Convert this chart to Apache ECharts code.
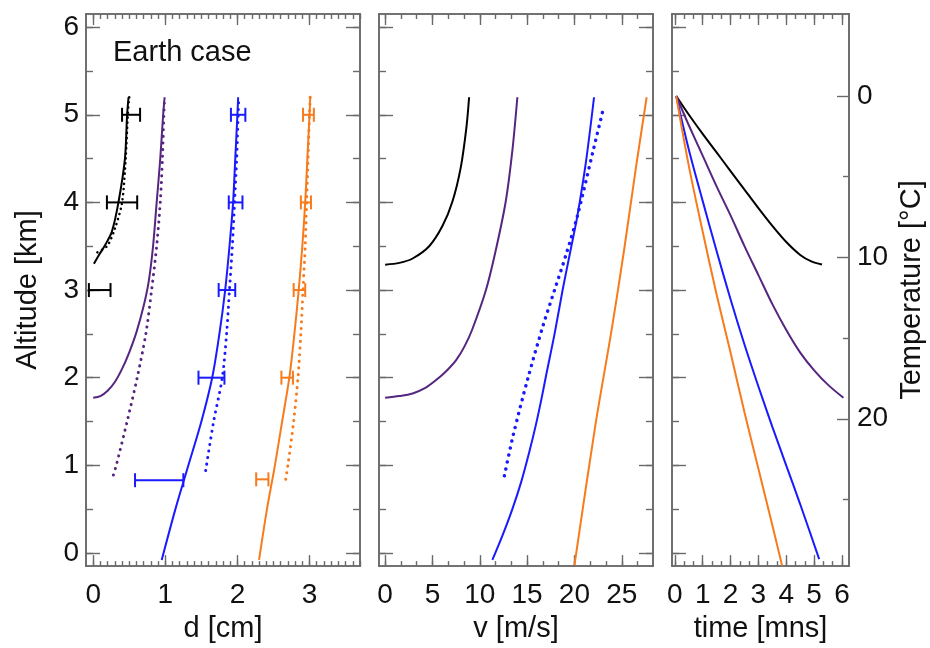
<!DOCTYPE html>
<html><head><meta charset="utf-8">
<script src="https://cdn.jsdelivr.net/npm/echarts@6/dist/echarts.min.js"></script>
<style>html,body{margin:0;padding:0;background:#fff}#c{width:930px;height:648px}</style>
</head><body><div id="c"></div>
<script>
// ---------------- tick labels ----------------
const dTickLabels = [0, 1, 2, 3];
const vTickLabels = [0, 5, 10, 15, 20, 25];
const timeTickLabels = [0, 1, 2, 3, 4, 5, 6];
const altTickLabels = [0, 1, 2, 3, 4, 5, 6];
const tempTickLabels = [0, 10, 20];

// ---------------- panel 1 : d [cm] vs altitude [km]   ([d, alt]) ----------------
const dBlack = [[0.49,5.2],[0.47,5.0],[0.44,4.5],[0.35,4.0],[0.26,3.67],[0.17,3.52],[0.08,3.40],[0.01,3.30]];
const dBlackDot = [[0.50,5.2],[0.48,5.0],[0.45,4.5],[0.40,4.0],[0.30,3.7],[0.19,3.5],[0.03,3.42]];
const dPurple = [[0.0,1.77],[0.1,1.79],[0.2,1.85],[0.3,1.95],[0.4,2.1],[0.5,2.29],[0.6,2.52],[0.7,2.82],[0.77,3.1],[0.83,3.5],[0.88,4.0],[0.93,4.5],[0.97,5.0],[0.99,5.2]];
const dPurpleDot = [[0.28,0.89],[0.32,1.0],[0.47,1.5],[0.61,2.0],[0.73,2.5],[0.81,3.0],[0.88,3.5],[0.93,4.0],[0.96,4.5],[0.98,5.0],[0.99,5.2]];
const dBlue = [[0.95,-0.08],[1.14,0.5],[1.32,1.0],[1.50,1.5],[1.65,2.0],[1.75,2.5],[1.83,3.0],[1.89,3.5],[1.94,4.0],[1.97,4.5],[2.0,5.0],[2.01,5.2]];
const dBlueDot = [[1.56,0.94],[1.67,1.5],[1.79,2.0],[1.85,2.5],[1.89,3.0],[1.93,3.5],[1.96,4.0],[1.99,4.5],[2.01,5.0],[2.02,5.2]];
const dOrange = [[2.30,-0.08],[2.41,0.5],[2.52,1.0],[2.62,1.5],[2.72,2.0],[2.79,2.5],[2.85,3.0],[2.90,3.5],[2.94,4.0],[2.97,4.5],[3.0,5.0],[3.01,5.2]];
const dOrangeDot = [[2.67,0.84],[2.70,1.0],[2.78,1.5],[2.84,2.0],[2.88,2.5],[2.91,3.0],[2.94,3.5],[2.96,4.0],[2.98,4.5],[3.0,5.0],[3.01,5.2]];
// measured sizes with horizontal error bars  ([alt, low, high])
const errBlack = [[5.0,0.40,0.65],[4.0,0.19,0.61],[3.0,-0.06,0.24]];
const errBlue = [[5.0,1.91,2.11],[4.0,1.88,2.07],[3.0,1.74,1.97],[2.0,1.46,1.82],[0.83,0.58,1.25]];
const errOrange = [[5.0,2.91,3.06],[4.0,2.88,3.02],[3.0,2.78,2.94],[2.0,2.61,2.77],[0.84,2.26,2.43]];

// ---------------- panel 2 : v [m/s] vs altitude [km]   ([v, alt]) ----------------
const vBlack = [[0,3.29],[1.5,3.31],[2.9,3.36],[4.65,3.50],[6.05,3.73],[7.11,4.01],[7.99,4.40],[8.59,4.86],[8.87,5.2]];
const vPurple = [[0,1.77],[1.5,1.79],[2.9,1.82],[4.2,1.88],[5.35,1.97],[6.5,2.08],[7.5,2.2],[8.4,2.36],[9.2,2.55],[10.65,3.0],[11.7,3.46],[12.74,4.01],[13.44,4.59],[13.97,5.2]];
const vBlue = [[11.33,-0.08],[12.4,0.2],[13.44,0.5],[14.4,0.82],[15.2,1.14],[15.9,1.45],[16.5,1.75],[17.05,2.05],[17.9,2.5],[18.75,3.0],[19.6,3.46],[20.3,3.84],[21.2,4.45],[22.07,5.2]];
const vBlueDot = [[12.6,0.88],[13.5,1.33],[15.1,2.0],[16.7,2.6],[17.9,3.0],[19.1,3.4],[20.3,3.84],[22.0,4.6],[23.1,5.09]];
const vOrange = [[20.0,-0.14],[22.2,1.45],[23.95,2.56],[25.25,3.46],[26.5,4.4],[27.63,5.2]];

// ---------------- panel 3 : time [mns] vs temperature [°C]   ([t, T]) ----------------
const tBlack = [[0.05,0],[0.5,1.15],[1.0,2.35],[1.5,3.5],[2.0,4.65],[2.5,5.8],[3.0,6.95],[3.5,8.05],[4.0,9.05],[4.5,9.85],[4.9,10.25],[5.28,10.44]];
const tPurple = [[0.05,0],[0.5,1.8],[1.0,3.7],[1.5,5.6],[2.0,7.4],[2.5,9.3],[3.0,11.1],[3.5,12.9],[4.0,14.5],[4.5,15.9],[5.0,17.0],[5.5,17.9],[6.05,18.7]];
const tBlue = [[0.05,0],[0.5,3.3],[1.0,6.5],[1.5,9.6],[2.0,12.6],[2.5,15.4],[3.0,18.0],[3.5,20.5],[4.0,22.9],[4.5,25.3],[5.18,28.7]];
const tOrange = [[0.05,0],[0.5,4.3],[1.0,8.4],[1.5,12.3],[2.0,15.9],[2.5,19.6],[3.0,23.1],[3.5,26.6],[3.85,29.1]];

// ---------------- styling ----------------
const FONT = '"Liberation Sans", Arial, Helvetica, sans-serif';
const AX = '#6a6a6a';
const TXT = '#111';
const C_BLACK = '#000000', C_PURPLE = '#55267f', C_BLUE = '#1a1aff', C_ORANGE = '#f77b1c';

function steps(a, b, s) { const out = []; for (let i = 0; a + i * s <= b + 1e-9; i++) out.push(Math.round((a + i * s) * 1e4) / 1e4); return out; }

const grids = [
  { left: 86, top: 14, width: 274, height: 557 },
  { left: 379, top: 14, width: 274, height: 557 },
  { left: 672, top: 14, width: 177, height: 557 }
];

function axis(o) {
  return {
    type: 'value', gridIndex: o.g, min: o.min, max: o.max, position: o.pos, inverse: !!o.inverse,
    splitLine: { show: false },
    axisLine: { show: true, onZero: false, lineStyle: { color: AX, width: 1.6 } },
    axisTick: { show: true, inside: true, length: o.len, customValues: o.ticks, lineStyle: { color: AX, width: 1.4 } },
    axisLabel: o.labels ? { show: true, customValues: o.labels, fontSize: 28, color: TXT, fontFamily: FONT, margin: o.margin } : { show: false },
    name: o.name || '', nameLocation: 'middle', nameGap: o.nameGap || 0, nameRotate: o.nameRotate,
    nameTextStyle: { fontSize: 29, color: TXT, fontFamily: FONT }
  };
}

const xDefs = [
  { min: -0.1, max: 3.7, majors: dTickLabels, minorStep: 0.1, name: 'd [cm]' },
  { min: -0.65, max: 28.3, majors: vTickLabels, minorStep: 5 / 3, name: 'v [m/s]' },
  { min: -0.1, max: 6.25, majors: timeTickLabels, minorStep: 1 / 3, name: 'time [mns]' }
];
const ALT_MIN = -0.15, ALT_MAX = 6.15;
const T_MIN = -5.08, T_MAX = 29.13;

const xAxes = [], yAxes = [];
xDefs.forEach((d, g) => {
  const minors = steps(d.majors[0], d.max, d.minorStep);
  xAxes.push(axis({ g, min: d.min, max: d.max, pos: 'bottom', len: 11, ticks: d.majors, labels: d.majors, margin: 15, name: d.name, nameGap: 46 }));
  xAxes.push(axis({ g, min: d.min, max: d.max, pos: 'bottom', len: 5, ticks: minors }));
  xAxes.push(axis({ g, min: d.min, max: d.max, pos: 'top', len: 11, ticks: d.majors }));
  xAxes.push(axis({ g, min: d.min, max: d.max, pos: 'top', len: 5, ticks: minors }));

  const altMinors = steps(0, 6, 0.5);
  yAxes.push(axis({ g, min: ALT_MIN, max: ALT_MAX, pos: 'left', len: 14, ticks: altTickLabels,
    labels: g === 0 ? altTickLabels : null, margin: 7, name: g === 0 ? 'Altitude [km]' : '', nameGap: 44, nameRotate: 90 }));
  yAxes.push(axis({ g, min: ALT_MIN, max: ALT_MAX, pos: 'left', len: 7, ticks: altMinors }));
  if (g < 2) {
    yAxes.push(axis({ g, min: ALT_MIN, max: ALT_MAX, pos: 'right', len: 14, ticks: altTickLabels }));
    yAxes.push(axis({ g, min: ALT_MIN, max: ALT_MAX, pos: 'right', len: 7, ticks: altMinors }));
  } else {
    yAxes.push(axis({ g, min: T_MIN, max: T_MAX, pos: 'right', inverse: true, len: 12, ticks: tempTickLabels,
      labels: tempTickLabels, margin: 8, name: 'Temperature [°C]', nameGap: 48, nameRotate: 90 }));
    yAxes.push(axis({ g, min: T_MIN, max: T_MAX, pos: 'right', inverse: true, len: 6, ticks: [5, 15, 25] }));
  }
});

function line(data, color, g, opt) {
  opt = opt || {};
  const dotted = !!opt.dotted;
  return {
    type: 'line', data, xAxisIndex: g * 4, yAxisIndex: opt.yIdx != null ? opt.yIdx : g * 4,
    symbol: 'none', showSymbol: false, smooth: 0.3, clip: true,
    silent: true, animation: false, z: dotted ? 3 : 4,
    lineStyle: { color, width: dotted ? (opt.w || 3) : 2, type: dotted ? [0.1, opt.gap || 6.5] : 'solid', cap: dotted ? 'round' : 'butt' }
  };
}
function errBars(data, color, g) {
  return {
    type: 'custom', xAxisIndex: g * 4, yAxisIndex: g * 4, data, silent: true, animation: false, z: 5,
    encode: { x: [1, 2], y: 0 },
    renderItem(params, api) {
      const y = api.value(0), lo = api.value(1), hi = api.value(2);
      const a = api.coord([lo, y]), b = api.coord([hi, y]);
      const h = 7, st = { stroke: color, lineWidth: 2 };
      return { type: 'group', children: [
        { type: 'line', shape: { x1: a[0], y1: a[1], x2: b[0], y2: b[1] }, style: st },
        { type: 'line', shape: { x1: a[0], y1: a[1] - h, x2: a[0], y2: a[1] + h }, style: st },
        { type: 'line', shape: { x1: b[0], y1: b[1] - h, x2: b[0], y2: b[1] + h }, style: st }
      ] };
    }
  };
}

const series = [
  line(dBlack, C_BLACK, 0), line(dBlackDot, C_BLACK, 0, { dotted: true, w: 2.5, gap: 5 }),
  line(dPurple, C_PURPLE, 0), line(dPurpleDot, C_PURPLE, 0, { dotted: true }),
  line(dBlue, C_BLUE, 0), line(dBlueDot, C_BLUE, 0, { dotted: true }),
  line(dOrange, C_ORANGE, 0), line(dOrangeDot, C_ORANGE, 0, { dotted: true }),
  errBars(errBlack, C_BLACK, 0), errBars(errBlue, C_BLUE, 0), errBars(errOrange, C_ORANGE, 0),

  line(vBlack, C_BLACK, 1), line(vPurple, C_PURPLE, 1), line(vBlue, C_BLUE, 1),
  line(vBlueDot, C_BLUE, 1, { dotted: true, w: 3.5, gap: 7 }), line(vOrange, C_ORANGE, 1),

  line(tBlack, C_BLACK, 2, { yIdx: 10 }), line(tPurple, C_PURPLE, 2, { yIdx: 10 }),
  line(tBlue, C_BLUE, 2, { yIdx: 10 }), line(tOrange, C_ORANGE, 2, { yIdx: 10 })
];

const chart = echarts.init(document.getElementById('c'), null, { renderer: 'canvas' });
chart.setOption({
  backgroundColor: '#fff',
  animation: false,
  grid: grids,
  xAxis: xAxes,
  yAxis: yAxes,
  series,
  graphic: [{ type: 'text', left: 113, top: 38, silent: true,
    style: { text: 'Earth case', fontSize: 29, fill: TXT, fontFamily: FONT } }]
});
</script></body></html>
